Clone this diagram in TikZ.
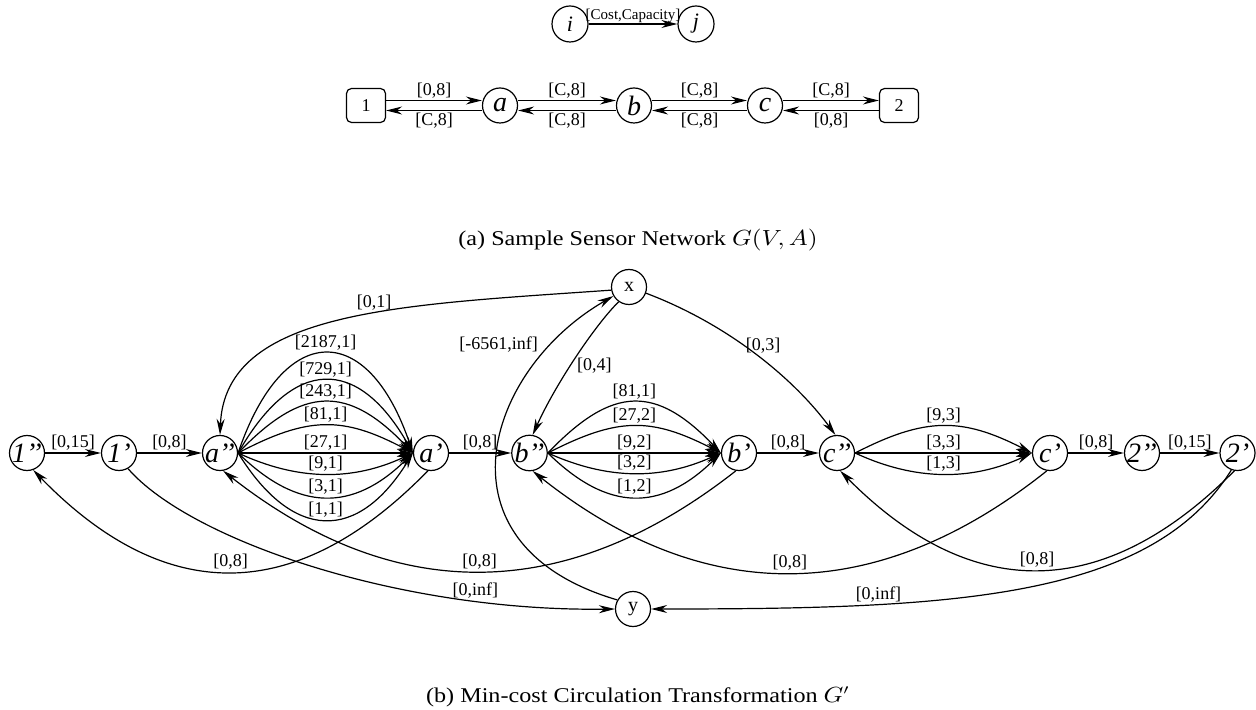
\documentclass[tikz,border=0pt]{standalone}
\usepackage{fontspec}
\setmainfont{Liberation Serif}
\usetikzlibrary{arrows.meta}
\begin{document}
\begin{tikzpicture}[x=0.5pt,y=-0.5pt,
  arr/.style={line width=0.6pt,-{Stealth[length=8pt,width=4pt,inset=2.6pt]}},
  vtx/.style={circle,draw,line width=0.6pt,minimum size=17.5pt,inner sep=0pt,font=\fontsize{14}{14}\selectfont\itshape},
  tvtx/.style={vtx,minimum size=18pt,font=\fontsize{11}{11}\selectfont\itshape},
  rvtx/.style={vtx,font=\fontsize{10}{10}\selectfont\upshape},
  termbox/.style={rectangle,rounded corners=2.5pt,draw,line width=0.6pt,minimum width=19.5pt,minimum height=17pt,inner sep=0pt,font=\fontsize{9}{9}\selectfont},
  lbl/.style={font=\fontsize{9}{10}\selectfont,inner sep=1pt},
  captxt/.style={font=\fontsize{10.5}{12}\selectfont,inner sep=0pt,xscale=1.15,transform shape}]
\useasboundingbox (0,0) rectangle (1256,710);
% ---------- (a) ----------
\node[tvtx] (ni) at (570,24) {i};
\node[tvtx] (nj) at (696,24) {j};
\draw[arr] (ni) -- node[above,font=\fontsize{7.5}{8}\selectfont,inner sep=0.5pt] (lcc) {[Cost,Capacity]} (nj);

\node[termbox] (n1) at (366,105.5) {1};
\node[vtx] (na) at (500,105.5) {a};
\node[vtx] (nb) at (634,105.5) {b};
\node[vtx] (nc) at (765,105.5) {c};
\node[termbox] (n2) at (899,105.5) {2};
\draw[arr] ([yshift=2.5pt]n1.east) -- node[above,lbl] (l1a) {[0,8]} ([yshift=2.5pt]na.west);
\draw[arr] ([yshift=-2.5pt]na.west) -- node[below,lbl] (la1) {[C,8]} ([yshift=-2.5pt]n1.east);
\draw[arr] ([yshift=2.5pt]na.east) -- node[above,lbl] (lab) {[C,8]} ([yshift=2.5pt]nb.west);
\draw[arr] ([yshift=-2.5pt]nb.west) -- node[below,lbl] (lba) {[C,8]} ([yshift=-2.5pt]na.east);
\draw[arr] ([yshift=2.5pt]nb.east) -- node[above,lbl] (lbc) {[C,8]} ([yshift=2.5pt]nc.west);
\draw[arr] ([yshift=-2.5pt]nc.west) -- node[below,lbl] (lcb) {[C,8]} ([yshift=-2.5pt]nb.east);
\draw[arr] ([yshift=2.5pt]nc.east) -- node[above,lbl] (lc2) {[C,8]} ([yshift=2.5pt]n2.west);
\draw[arr] ([yshift=-2.5pt]n2.west) -- node[below,lbl] (l2c) {[0,8]} ([yshift=-2.5pt]nc.east);

\node[captxt] (capa) at (638,240) {(a) Sample Sensor Network \(G(V,A)\)};

% ---------- (b) ----------
\node[vtx] (n1pp) at (27,453) {1’’};
\node[vtx] (n1p) at (119,453) {1’};
\node[vtx] (app) at (220,453) {a’’};
\node[vtx] (ap) at (431,453) {a’};
\node[vtx] (bpp) at (529.5,453) {b’’};
\node[vtx] (bp) at (739,453) {b’};
\node[vtx] (cpp) at (837,453) {c’’};
\node[vtx] (cp) at (1050,453) {c’};
\node[vtx] (n2pp) at (1142,453) {2’’};
\node[vtx] (n2p) at (1237.5,453) {2’};
\node[rvtx] (nx) at (629,287) {x};
\node[rvtx] (ny) at (633,609) {y};

% straight row
\draw[arr] (n1pp) -- node[above,lbl] (r1) {[0,15]} (n1p);
\draw[arr] (n1p) -- node[above,lbl] (r2) {[0,8]} (app);
\draw[arr] (ap) -- node[above,lbl] (r3) {[0,8]} (bpp);
\draw[arr] (bp) -- node[above,lbl] (r4) {[0,8]} (cpp);
\draw[arr] (cp) -- node[above,lbl] (r5) {[0,8]} (n2pp);
\draw[arr] (n2pp) -- node[above,lbl] (r6) {[0,15]} (n2p);

% fan a'' -> a'
\foreach \dx/\oy/\t [count=\k] in {45/-133/{[2187,1]},55/-97/{[729,1]},65/-68/{[243,1]},70/-37/{[81,1]},60/0/{[27,1]},60/28/{[9,1]},60/59/{[3,1]},55/89/{[1,1]}}
  \draw[arr] (app.east) .. controls +(\dx,\oy) and +(-\dx,\oy) .. (ap.west) node[midway,above,lbl] (fa\k) {\t};
% fan b'' -> b'
\foreach \dx/\oy/\t [count=\k] in {65/-68/{[81,1]},70/-36/{[27,2]},60/0/{[9,2]},60/27/{[3,2]},60/59/{[1,2]}}
  \draw[arr] (bpp.east) .. controls +(\dx,\oy) and +(-\dx,\oy) .. (bp.west) node[midway,above,lbl] (fb\k) {\t};
% fan c'' -> c'
\foreach \dx/\oy/\t [count=\k] in {70/-36/{[9,3]},60/0/{[3,3]},60/28/{[1,3]}}
  \draw[arr] (cpp.east) .. controls +(\dx,\oy) and +(-\dx,\oy) .. (cp.west) node[midway,above,lbl] (fc\k) {\t};

% edges from x
\draw[arr] (nx.190) .. controls (400,305) and (225,310) .. (app.north) node[pos=0.42,above,lbl] (lx1) {[0,1]};
\draw[arr] (nx.235) .. controls (595,325) and (555,385) .. (bpp.80) node[pos=0.55,right,xshift=2pt,lbl] (lx2) {[0,4]};
\draw[arr] (nx.-20) .. controls (730,325) and (795,380) .. (cpp.95) node[pos=0.5,above,xshift=3pt,lbl] (lx3) {[0,3]};
% y -> x
\draw[arr] (ny.150) .. controls (430,545) and (485,370) .. (nx.210) node[pos=0.8,anchor=east,xshift=-3pt,yshift=3pt,lbl] (lyx) {[-6561,inf]};
% to y
\draw[arr] (n1p.-60) .. controls (190,540) and (400,612) .. (ny.west) node[pos=0.78,above,lbl] (l1y) {[0,inf]};
\draw[arr] (n2p.-110) .. controls (1150,600) and (950,609) .. (ny.east) node[pos=0.72,above,lbl] (l2y) {[0,inf]};
% return arcs
\draw[arr] (ap.-100) .. controls (296,606) and (165,606) .. (n1pp.-70) node[midway,above,lbl] (ra1) {[0,8]};
\draw[arr] (bp.-100) .. controls (565,605) and (394,605) .. (app.-80) node[midway,above,lbl] (rba) {[0,8]};
\draw[arr] (cp.-100) .. controls (876,607) and (703.5,607) .. (bpp.-80) node[midway,above,lbl] (rcb) {[0,8]};
\draw[arr] (n2p.-100) .. controls (1103,603) and (971,603) .. (cpp.-80) node[midway,above,lbl] (r2c) {[0,8]};

\node[captxt] (capb) at (638,697) {(b) Min-cost Circulation Transformation \(G'\)};
\end{tikzpicture}
\end{document}
